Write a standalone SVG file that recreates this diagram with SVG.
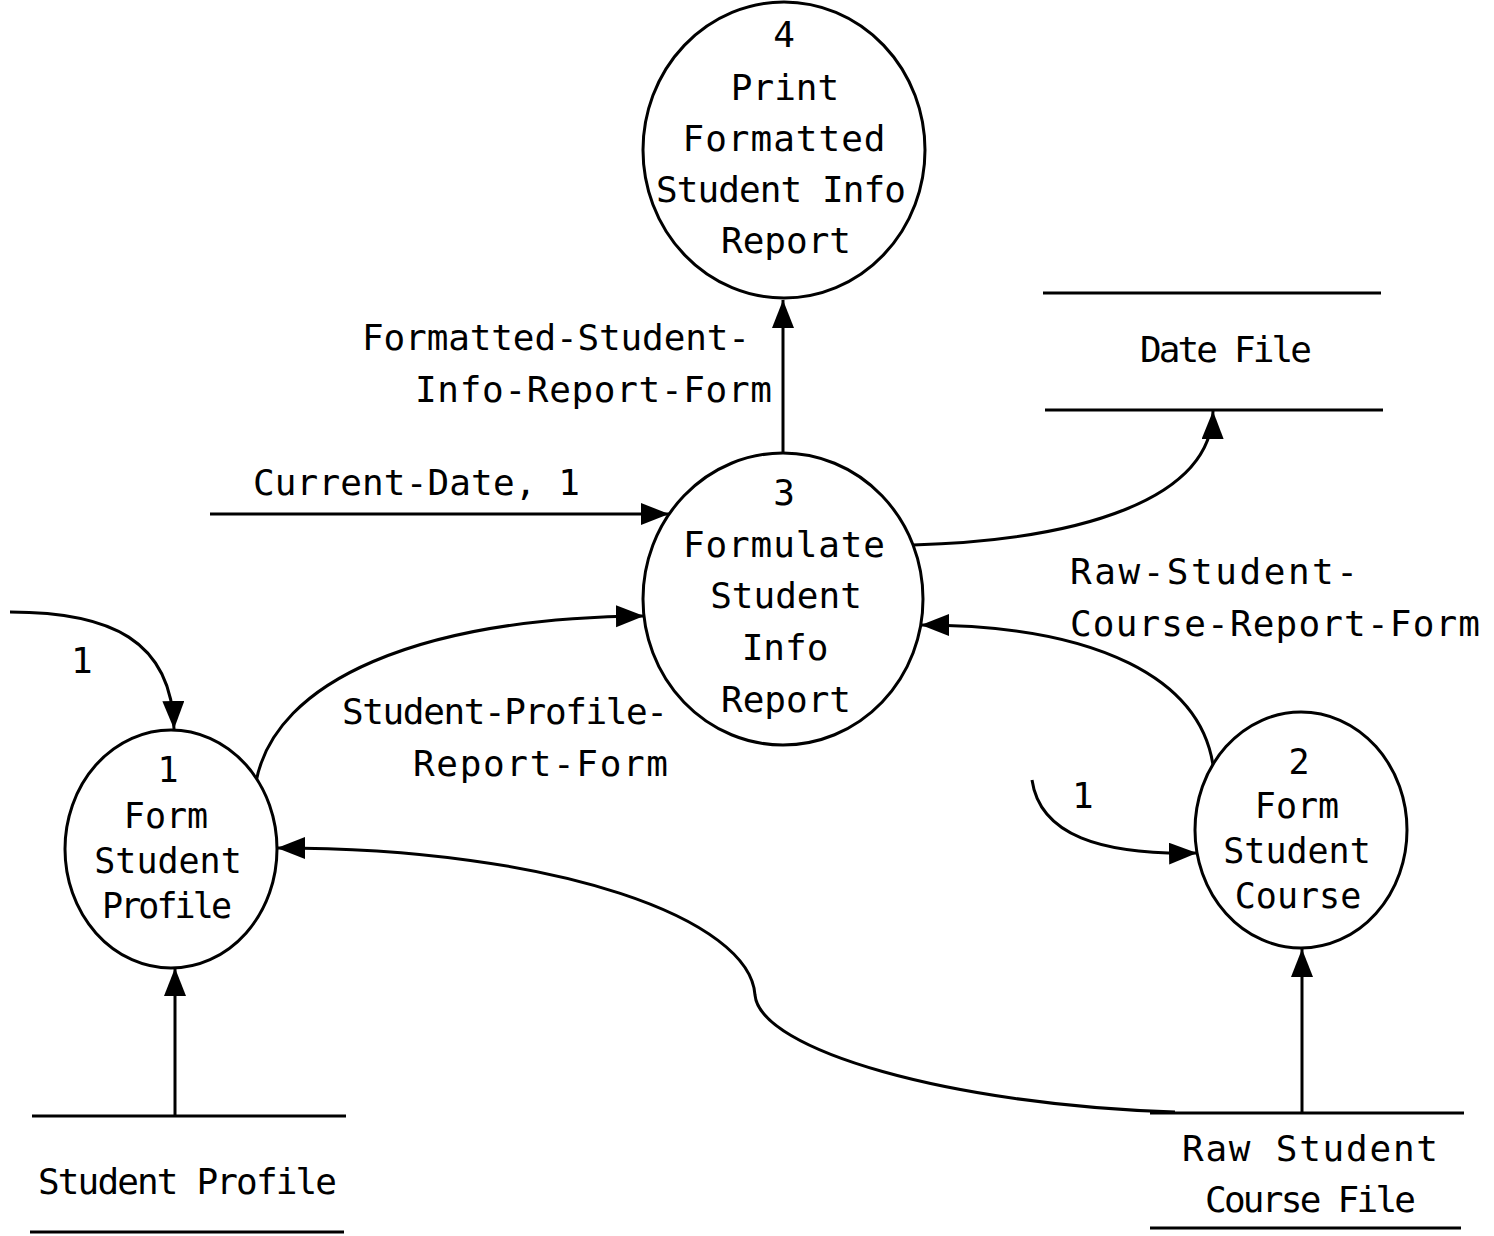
<svg xmlns="http://www.w3.org/2000/svg" width="1494" height="1236" viewBox="0 0 1494 1236">
  <style>
    .bubble { fill: #ffffff; stroke: #000000; stroke-width: 3; }
    .store { stroke: #000000; stroke-width: 3; fill: none; }
    .flow { stroke: #000000; stroke-width: 3; fill: none; marker-end: url(#head); }
    text { font-family: "DejaVu Sans Mono", "Liberation Mono", monospace; font-size: 36px; fill: #000000; }
    .c { text-anchor: middle; }
    .small { font-size: 35px; }
  </style>
  <defs>
    <marker id="head" markerUnits="userSpaceOnUse" markerWidth="30" markerHeight="24" refX="28" refY="11" orient="auto">
      <path d="M0,0 L28,11 L0,22 Z" fill="#000000"/>
    </marker>
  </defs>

  <rect x="0" y="0" width="1494" height="1236" fill="#ffffff"/>

  <!-- data flows -->
  <g id="connectors">
    <path class="flow" d="M783,453 L783,300"/>
    <path class="flow" d="M210,514 L669,514"/>
    <path class="flow" d="M913,545 C1080,540 1212,500 1213,411"/>
    <path class="flow" d="M1213,765 C1200,680 1100,625 921,625"/>
    <path class="flow" d="M10,612 C110,612 172,640 174,729"/>
    <path class="flow" d="M256,782 C275,680 420,618 644,616"/>
    <path class="flow" d="M1175,1112 C950,1105 760,1050 755,995 C750,920 560,848 277,848"/>
    <path class="flow" d="M1032,780 C1040,835 1100,855 1197,853"/>
    <path class="flow" d="M1302,1113 L1302,949"/>
    <path class="flow" d="M175,1116 L175,968"/>

    <text x="362" y="350" textLength="388" lengthAdjust="spacing">Formatted-Student-</text>
    <text x="415" y="402" textLength="357" lengthAdjust="spacing">Info-Report-Form</text>
    <text x="253" y="495" textLength="327" lengthAdjust="spacing">Current-Date, 1</text>
    <text x="342" y="724" textLength="326" lengthAdjust="spacing">Student-Profile-</text>
    <text x="413" y="776" textLength="255" lengthAdjust="spacing">Report-Form</text>
    <text x="1070" y="584" textLength="288" lengthAdjust="spacing">Raw-Student-</text>
    <text x="1070" y="636" textLength="410" lengthAdjust="spacing">Course-Report-Form</text>
    <text x="71" y="673">1</text>
    <text x="1072" y="808">1</text>
  </g>

  <!-- process 4 -->
  <g id="p4">
    <ellipse class="bubble" cx="784" cy="150" rx="141" ry="148"/>
    <text class="c" x="784" y="47">4</text>
    <text class="c" x="785" y="100">Print</text>
    <text class="c" x="784" y="151" textLength="203" lengthAdjust="spacing">Formatted</text>
    <text class="c" x="781" y="202" textLength="250" lengthAdjust="spacing">Student Info</text>
    <text class="c" x="786" y="253">Report</text>
  </g>

  <!-- process 3 -->
  <g id="p3">
    <ellipse class="bubble" cx="783" cy="599" rx="140" ry="146"/>
    <text class="c" x="784" y="505">3</text>
    <text class="c" x="784" y="557" textLength="202" lengthAdjust="spacing">Formulate</text>
    <text class="c" x="786" y="608">Student</text>
    <text class="c" x="785" y="660">Info</text>
    <text class="c" x="786" y="712">Report</text>
  </g>

  <!-- process 1 -->
  <g id="p1">
    <ellipse class="bubble" cx="171" cy="849" rx="106" ry="119"/>
    <text class="c small" x="168" y="782">1</text>
    <text class="c small" x="166" y="828">Form</text>
    <text class="c small" x="168" y="873">Student</text>
    <text class="c small" x="167" y="918" textLength="130" lengthAdjust="spacing">Profile</text>
  </g>

  <!-- process 2 -->
  <g id="p2">
    <ellipse class="bubble" cx="1301" cy="830" rx="106" ry="118"/>
    <text class="c small" x="1299" y="774">2</text>
    <text class="c small" x="1297" y="818">Form</text>
    <text class="c small" x="1297" y="863">Student</text>
    <text class="c small" x="1298" y="908">Course</text>
  </g>

  <!-- data stores -->
  <g id="store-date">
    <line class="store" x1="1043" y1="293" x2="1381" y2="293"/>
    <line class="store" x1="1045" y1="410" x2="1383" y2="410"/>
    <text x="1140" y="362" textLength="172" lengthAdjust="spacing">Date File</text>
  </g>

  <g id="store-profile">
    <line class="store" x1="32" y1="1116" x2="346" y2="1116"/>
    <line class="store" x1="30" y1="1232" x2="344" y2="1232"/>
    <text x="38" y="1194" textLength="299" lengthAdjust="spacing">Student Profile</text>
  </g>

  <g id="store-course">
    <line class="store" x1="1150" y1="1113" x2="1464" y2="1113"/>
    <line class="store" x1="1150" y1="1228" x2="1461" y2="1228"/>
    <text x="1182" y="1161" textLength="256" lengthAdjust="spacing">Raw Student</text>
    <text x="1205" y="1212" textLength="211" lengthAdjust="spacing">Course File</text>
  </g>
</svg>
